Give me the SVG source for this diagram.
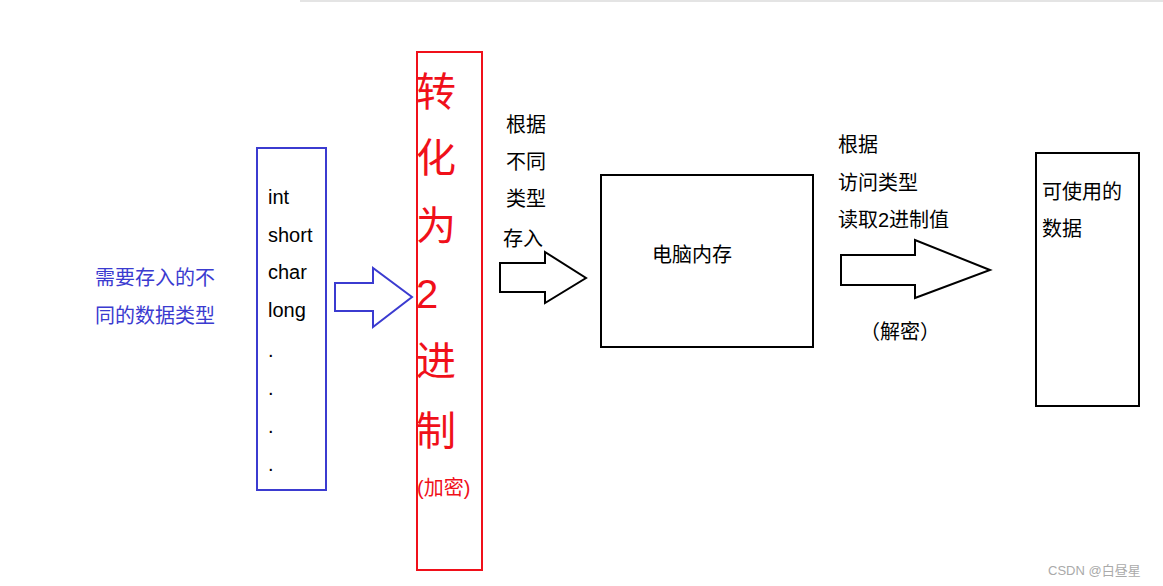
<svg xmlns="http://www.w3.org/2000/svg" width="1163" height="586" viewBox="0 0 1163 586">
<style>
text{font-family:"Liberation Sans","Noto Sans CJK SC",sans-serif;font-size:20px;fill:#000}
.b{fill:#3b3bd0}.r{fill:#f0101a}.big{font-size:40px}
.box{fill:#fff;stroke:#000;stroke-width:2}
.arr{fill:#fff;stroke:#000;stroke-width:2}
</style>
<rect width="1163" height="586" fill="#fff"/>
<line x1="300" y1="1" x2="1163" y2="1" stroke="#e4e4e4" stroke-width="2"/>
<g id="source">
<text class="b" x="95" y="285">需要存入的不</text>
<text class="b" x="95" y="323">同的数据类型</text>
</g>
<g id="types">
<rect x="257" y="148" width="69" height="342" fill="#fff" stroke="#3b3bd0" stroke-width="2"/>
<text x="268" y="204">int</text><text x="268" y="242">short</text><text x="268" y="279">char</text><text x="268" y="317">long</text>
<text x="268" y="357">.</text><text x="268" y="395">.</text><text x="268" y="433">.</text><text x="268" y="471">.</text>
</g>
<g id="convert">
<rect x="417" y="52" width="65" height="518" fill="#fff" stroke="#f0101a" stroke-width="2"/>
<text class="r big" x="416" y="106">转</text>
<text class="r big" x="416" y="172">化</text>
<text class="r big" x="416" y="240">为</text>
<text class="r big" x="416" y="308">2</text>
<text class="r big" x="416" y="375">进</text>
<text class="r big" x="416" y="445">制</text>
<text class="r" x="417" y="495">(加密)</text>
</g>
<g id="memory">
<rect class="box" x="601" y="175" width="212" height="172"/>
<text x="652" y="262">电脑内存</text>
</g>
<g id="data">
<rect class="box" x="1036" y="153" width="103" height="253"/>
<text x="1042" y="199">可使用的</text>
<text x="1042" y="236">数据</text>
</g>
<g id="connectors">
<polygon points="335,283 373,283 373,268 412,297 373,327 373,311 335,311" fill="#fff" stroke="#3b3bd0" stroke-width="2"/>
<polygon class="arr" points="500,263 545,263 545,252 586,278 545,303 545,292 500,292"/>
<polygon class="arr" points="841,255 915,255 915,240 990,270 915,298 915,285 841,285"/>
<text x="506" y="132">根据</text><text x="506" y="169">不同</text><text x="506" y="206">类型</text><text x="503" y="246">存入</text>
<text x="838" y="152">根据</text><text x="838" y="190">访问类型</text><text x="838" y="227">读取2进制值</text>
<text x="860" y="339">（解密）</text>
</g>
<text x="1048" y="575" style="font-size:13px;fill:#aaa">CSDN @白昼星</text>
</svg>
